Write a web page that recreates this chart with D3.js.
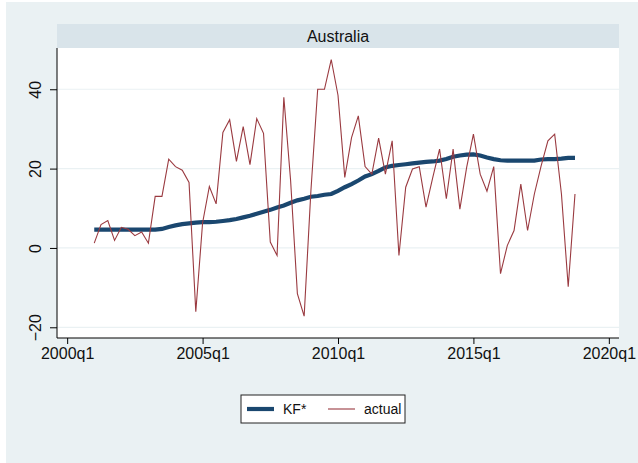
<!DOCTYPE html>
<html>
<head>
<meta charset="utf-8">
<script src="https://cdn.jsdelivr.net/npm/d3@7"></script>
<style>
  body { margin: 0; background: #ffffff; }
  svg { display: block; font-family: "Liberation Sans", Arial, sans-serif; }
</style>
</head>
<body>
<div id="chart"></div>
<script>
// quarters counted from 2000q1, series start at 2001q1
let startQuarter = 4
let xTicks = [0, 20, 40, 60, 80]
let yTicks = [-20, 0, 20, 40]

let actual = [1.2, 5.9, 6.9, 1.9, 5.2, 4.7, 3.1, 4.0, 1.2, 13.0,
  13.0, 22.4, 20.5, 19.6, 16.5, -16.1, 6.3, 15.5, 11.1, 29.1,
  32.3, 21.8, 30.6, 21.0, 32.6, 28.9, 1.5, -1.9, 38.0, 17.0,
  -11.5, -17.2, 14.4, 40.0, 40.0, 47.5, 38.5, 17.8, 27.8, 33.3,
  20.5, 18.6, 27.7, 18.6, 27.0, -1.9, 15.3, 19.9, 20.5, 10.3,
  17.8, 24.9, 12.4, 24.9, 9.8, 20.3, 28.7, 18.6, 14.3, 20.5,
  -6.5, 0.6, 4.4, 16.1, 4.4, 13.6, 20.7, 27.0, 28.7, 13.6,
  -9.8, 13.6]

let kf = [4.6, 4.6, 4.6, 4.6, 4.6, 4.6, 4.6, 4.6, 4.6, 4.6,
  4.8, 5.3, 5.7, 6.0, 6.2, 6.4, 6.5, 6.5, 6.6, 6.8,
  7.0, 7.3, 7.7, 8.1, 8.6, 9.1, 9.6, 10.2, 10.7, 11.4,
  12.0, 12.4, 12.9, 13.1, 13.4, 13.6, 14.4, 15.3, 16.1, 17.0,
  18.0, 18.6, 19.4, 20.3, 20.7, 20.9, 21.1, 21.3, 21.5, 21.7,
  21.8, 22.0, 22.4, 23.0, 23.3, 23.5, 23.6, 23.3, 22.8, 22.4,
  22.1, 22.0, 22.0, 22.0, 22.0, 22.0, 22.3, 22.4, 22.4, 22.5,
  22.7, 22.7]

let width = 638, height = 463
let plot = { left: 57, right: 619, top: 48, bottom: 338 }

let svg = d3.select('#chart').append('svg')
  .attr('width', width)
  .attr('height', height)

svg.append('rect')
  .attr('x', 6).attr('y', 2)
  .attr('width', width - 6).attr('height', height - 2)
  .attr('fill', '#eaf1f3')

// title strip
svg.append('rect')
  .attr('x', plot.left).attr('y', 24)
  .attr('width', plot.right - plot.left).attr('height', plot.top - 24)
  .attr('fill', '#d9e4ea')

svg.append('text')
  .attr('x', (plot.left + plot.right) / 2)
  .attr('y', 41.5)
  .attr('text-anchor', 'middle')
  .attr('font-size', '16px')
  .attr('fill', '#111')
  .text('Australia')

svg.append('rect')
  .attr('x', plot.left).attr('y', plot.top)
  .attr('width', plot.right - plot.left).attr('height', plot.bottom - plot.top)
  .attr('fill', '#ffffff')

let xScale = d3.scaleLinear()
  .domain([-1.5, 81.5])
  .range([plot.left, plot.right])

let yScale = d3.scaleLinear()
  .domain([-22.7, 50.4])
  .range([plot.bottom, plot.top])

svg.append('g')
  .selectAll('line')
  .data(yTicks)
  .enter()
  .append('line')
  .attr('x1', plot.left).attr('x2', plot.right)
  .attr('y1', d => yScale(d)).attr('y2', d => yScale(d))
  .attr('stroke', '#eaf1f3')
  .attr('stroke-width', 1.2)

let yAxis = d3.axisLeft(yScale)
  .tickValues(yTicks)
  .tickSize(7)
  .tickFormat(d3.format('d'))

let yAxis_container = svg.append('g')
  .attr('transform', `translate(${plot.left},0)`)
  .call(yAxis)

yAxis_container.select('.domain')
  .attr('d', `M0,${plot.top}V${plot.bottom}`)
  .attr('stroke', '#000')

yAxis_container.selectAll('.tick text')
  .attr('font-size', '16px')
  .attr('fill', '#111')
  .attr('x', 0).attr('dy', 0)
  .attr('text-anchor', 'middle')
  .attr('transform', 'translate(-16,0) rotate(-90)')

let xAxis = d3.axisBottom(xScale)
  .tickValues(xTicks)
  .tickSize(6)
  .tickFormat(d => (2000 + d / 4) + 'q1')

let xAxis_container = svg.append('g')
  .attr('transform', `translate(0,${plot.bottom})`)
  .call(xAxis)

xAxis_container.select('.domain')
  .attr('d', `M${plot.left},0H${plot.right}`)
  .attr('stroke', '#000')

xAxis_container.selectAll('.tick text')
  .attr('font-size', '16px')
  .attr('fill', '#111')
  .attr('y', 10)

let line = d3.line()
  .x((d, i) => xScale(startQuarter + i))
  .y(d => yScale(d))

svg.append('path')
  .datum(kf)
  .attr('d', line)
  .attr('fill', 'none')
  .attr('stroke', '#1a476f')
  .attr('stroke-width', 4.2)

svg.append('path')
  .datum(actual)
  .attr('d', line)
  .attr('fill', 'none')
  .attr('stroke', '#9a3a40')
  .attr('stroke-width', 1.1)

// legend
let legend = svg.append('g')
  .attr('transform', 'translate(241,395)')

legend.append('rect')
  .attr('width', 164).attr('height', 28)
  .attr('fill', '#ffffff')
  .attr('stroke', '#222')
  .attr('stroke-width', 1)

let items = [
  { name: 'KF*', color: '#1a476f', w: 4.2, x: 6 },
  { name: 'actual', color: '#9a3a40', w: 1.1, x: 87 }
]

items.forEach(it => {
  legend.append('line')
    .attr('x1', it.x).attr('x2', it.x + 27)
    .attr('y1', 14).attr('y2', 14)
    .attr('stroke', it.color)
    .attr('stroke-width', it.w)
  legend.append('text')
    .attr('x', it.x + 36)
    .attr('y', 19)
    .attr('font-size', '14px')
    .attr('fill', '#111')
    .text(it.name)
})
</script>
</body>
</html>
